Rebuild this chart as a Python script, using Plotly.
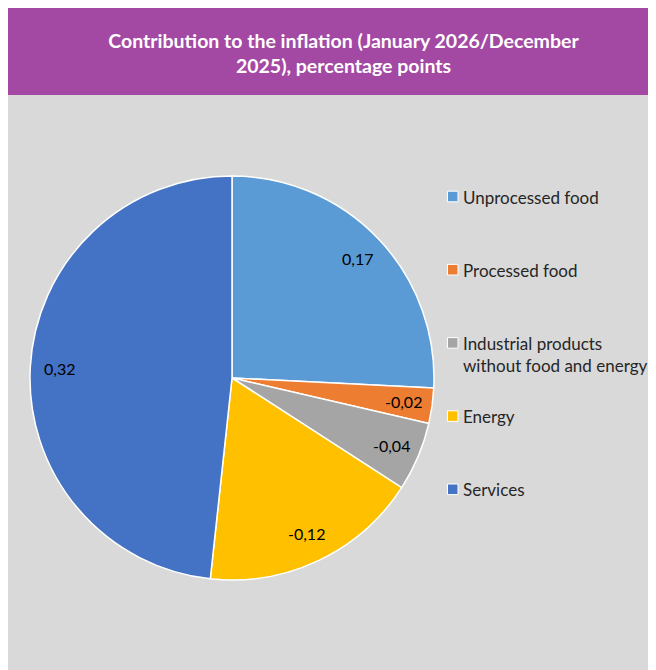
import numpy as np
import plotly.graph_objects as go

categorias = ["Unprocessed food", "Processed food",
              "Industrial products<br>without food and energy", "Energy", "Services"]
contribuicao = [0.173, -0.019, -0.037, -0.118, 0.324]
cores = ["#5B9BD5", "#ED7D31", "#A5A5A5", "#FFC000", "#4472C4"]

rotulos = [f"{v:.2f}".replace(".", ",") for v in contribuicao]
tamanhos = np.abs(contribuicao)

W, H = 648, 662
FONTE = "Lato"
CX, CY, R = 224, 370, 202  # centro e raio da pizza em px

fig = go.Figure()
fig.add_trace(go.Pie(
    labels=categorias,
    values=tamanhos,
    textinfo="none",
    marker=dict(colors=cores, line=dict(color="white", width=1.5)),
    sort=False,
    direction="clockwise",
    rotation=0,
    showlegend=False,
    customdata=rotulos,
    hovertemplate="<b>%{label}</b><br>%{customdata}<extra></extra>",
    domain=dict(x=[(CX - R) / W, (CX + R) / W], y=[1 - (CY + R) / H, 1 - (CY - R) / H]),
))

# rótulos perto da borda, como no Excel
acumulado = np.cumsum(tamanhos) - tamanhos / 2
angulos = 2 * np.pi * acumulado / tamanhos.sum()
anotacoes = []
for rot, ang in zip(rotulos, angulos):
    r = 0.855 * R
    anotacoes.append(dict(text=rot, xref="paper", yref="paper",
                          x=(CX + r * np.sin(ang)) / W, y=1 - (CY - r * np.cos(ang)) / H,
                          xanchor="center", yanchor="middle", showarrow=False,
                          font=dict(family=FONTE, size=16, color="black")))

# legenda manual para reproduzir o espaçamento largo
legenda_y0 = 188.5
passo = 73.2
formas = [dict(type="rect", xref="paper", yref="paper", x0=0, x1=1,
               y0=1 - 87 / H, y1=1, fillcolor="#A349A4", line_width=0, layer="below")]
for i, (nome, cor) in enumerate(zip(categorias, cores)):
    yc = legenda_y0 + passo * i
    formas.append(dict(type="rect", xref="paper", yref="paper",
                       x0=439.5 / W, x1=450 / W, y0=1 - (yc + 5.3) / H, y1=1 - (yc - 5.3) / H,
                       fillcolor=cor, line=dict(color="white", width=1)))
    anotacoes.append(dict(text=nome, xref="paper", yref="paper", x=453 / W,
                          y=1 - (yc - 12) / H, xanchor="left", yanchor="top",
                          align="left", showarrow=False,
                          font=dict(family=FONTE, size=17, color="#262626")))

fig.update_layout(
    width=W,
    height=H,
    margin=dict(l=0, r=0, t=0, b=0),
    paper_bgcolor="#D9D9D9",
    title=dict(
        text="<b>Contribution to the inflation (January 2026/December<br>2025), percentage points</b>",
        x=335.5 / W, xanchor="center", y=1 - 40 / H, yanchor="middle",
        font=dict(family=FONTE, size=19.5, color="white"),
    ),
    shapes=formas,
    annotations=anotacoes,
)

fig.write_html("out.html")
